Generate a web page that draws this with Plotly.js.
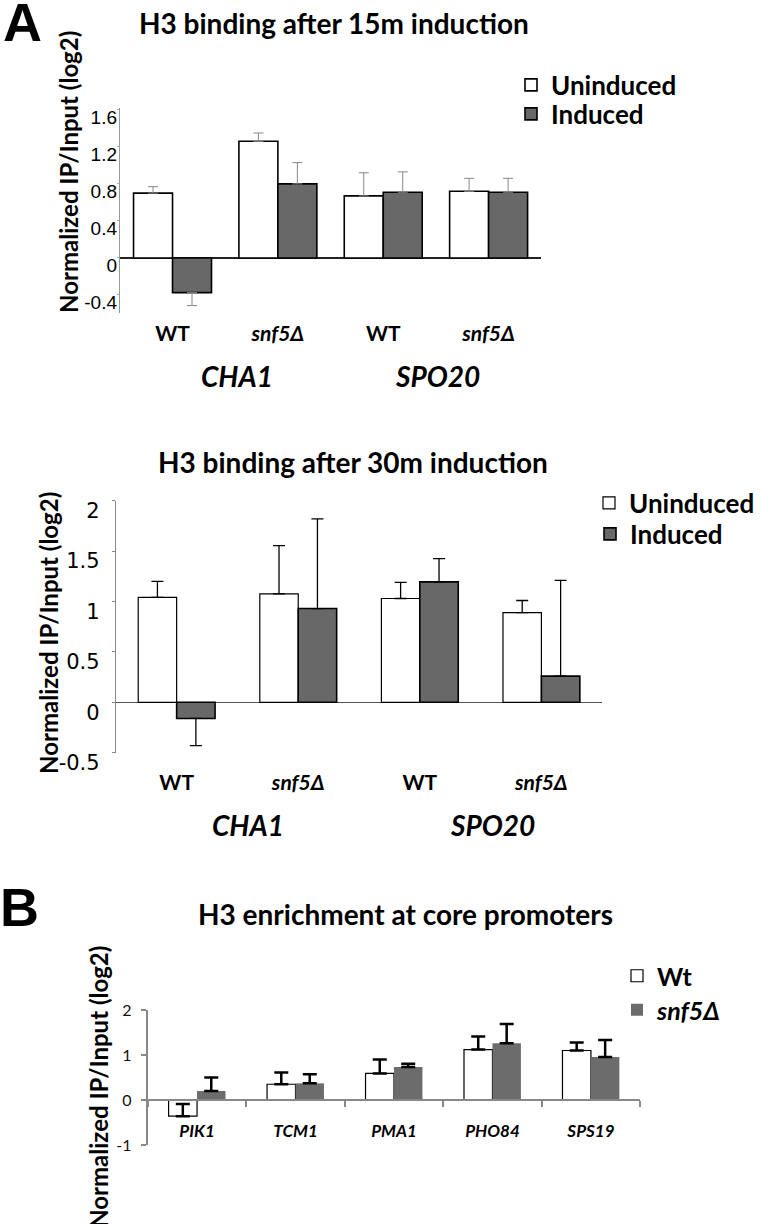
<!DOCTYPE html>
<html><head><meta charset="utf-8">
<script src="https://cdn.plot.ly/plotly-3.0.1.min.js"></script>
<style>html,body{margin:0;padding:0;background:#fff}</style>
</head><body><div id="chart" style="width:760px;height:1224px"></div>
<script>
// ---------------- data ----------------
const strainLabels = ["WT", "snf5Δ", "WT", "snf5Δ"];
const categoriesA = ["CHA1 WT", "CHA1 snf5Δ", "SPO20 WT", "SPO20 snf5Δ"];
const genesA = ["CHA1", "SPO20"];
const seriesA = ["Uninduced", "Induced"];

// 15 min induction
const a15Uninduced = [0.70, 1.26, 0.67, 0.72];
const a15UninducedErr = [0.07, 0.09, 0.25, 0.14];
const a15Induced = [-0.375, 0.80, 0.71, 0.71];
const a15InducedErr = [0.14, 0.23, 0.22, 0.15];
const a15Ticks = [-0.4, 0, 0.4, 0.8, 1.2, 1.6];

// 30 min induction
const a30Uninduced = [1.04, 1.075, 1.03, 0.89];
const a30UninducedErr = [0.16, 0.48, 0.16, 0.12];
const a30Induced = [-0.16, 0.93, 1.195, 0.26];
const a30InducedErr = [0.27, 0.89, 0.23, 0.95];
const a30Ticks = [-0.5, 0, 0.5, 1, 1.5, 2];

// core promoters
const promoters = ["PIK1", "TCM1", "PMA1", "PHO84", "SPS19"];
const seriesB = ["Wt", "snf5Δ"];
const bWt = [-0.36, 0.35, 0.59, 1.12, 1.10];
const bWtErr = [0.27, 0.26, 0.31, 0.29, 0.18];
const bSnf5 = [0.20, 0.37, 0.735, 1.26, 0.955];
const bSnf5Err = [0.30, 0.20, 0.07, 0.43, 0.38];
const bTicks = [-1, 0, 1, 2];

// ---------------- helpers ----------------
const W = 760, H = 1224;
const fx = p => p / W;
const fy = p => 1 - p / H;
const GRAY = '#686868';
const plusOf = (v, e) => v.map((d, i) => d >= 0 ? e[i] : 0);
const minusOf = (v, e) => v.map((d, i) => d < 0 ? e[i] : 0);

function barA(xa, ya, y, err, name, fill, lw, w, off, legend, errStyle) {
  return {
    type: 'bar', x: categoriesA, y: y, name: name, xaxis: xa, yaxis: ya,
    width: w, offset: off, legend: legend,
    marker: {color: fill, line: {color: '#000', width: lw}},
    error_y: Object.assign({type: 'data', symmetric: false,
      array: plusOf(y, err), arrayminus: minusOf(y, err)}, errStyle),
    hoverinfo: 'skip'
  };
}

const errA15 = {color: '#888', thickness: 1, width: 5};
const errA30 = {color: '#000', thickness: 1.3, width: 6};
const errB = {color: '#000', thickness: 2.5, width: 7};

const wA15 = 0.37, wA30 = 0.316, wB = 0.289;

const traces = [
  barA('x', 'y', a15Uninduced, a15UninducedErr, seriesA[0], '#fff', 1.6, wA15, -wA15, 'legend', errA15),
  barA('x', 'y', a15Induced, a15InducedErr, seriesA[1], GRAY, 1.6, wA15, 0, 'legend2', errA15),
  barA('x2', 'y2', a30Uninduced, a30UninducedErr, seriesA[0], '#fff', 1.2, wA30, -wA30, 'legend3', errA30),
  barA('x2', 'y2', a30Induced, a30InducedErr, seriesA[1], GRAY, 1.6, wA30, 0, 'legend4', errA30),
  {type: 'bar', x: promoters, y: bWt, name: seriesB[0], xaxis: 'x3', yaxis: 'y3',
   width: wB, offset: -wB, legend: 'legend5', hoverinfo: 'skip',
   marker: {color: '#fff', line: {color: '#000', width: 1.2}},
   error_y: Object.assign({type: 'data', symmetric: false, array: bWtErr, arrayminus: bWt.map(() => 0)}, errB)},
  {type: 'bar', x: promoters, y: bSnf5, name: seriesB[1], xaxis: 'x3', yaxis: 'y3',
   width: wB, offset: 0, legend: 'legend6', hoverinfo: 'skip',
   marker: {color: '#6c6c6c', line: {color: '#6c6c6c', width: 0}},
   error_y: Object.assign({type: 'data', symmetric: false, array: bSnf5Err, arrayminus: bSnf5.map(() => 0)}, errB)}
];

const boldLato = (size, style) => ({family: 'Lato, "Open Sans", sans-serif', size: size, color: '#000', weight: 700, style: style || 'normal'});
const tickTextA = strainLabels.map(s => s === 'WT' ? '<b>' + s + '</b>' : '<b><i>' + s + '</i></b>');
const fmt = v => String(v);

function legendAt(symX, cy, size, style) {
  return {x: fx(symX - 20), xanchor: 'left', y: fy(cy), yanchor: 'middle',
          bgcolor: 'rgba(0,0,0,0)', borderwidth: 0, font: boldLato(size, style),
          itemclick: false, itemdoubleclick: false};
}

const layout = {
  width: W, height: H, margin: {l: 0, r: 0, t: 0, b: 0},
  paper_bgcolor: '#fff', plot_bgcolor: 'rgba(0,0,0,0)',
  barmode: 'overlay', showlegend: true,
  // ---- A, 15 min ----
  xaxis: {domain: [fx(120), fx(542)], anchor: 'y', type: 'category',
    tickvals: categoriesA, ticktext: tickTextA, showline: false, showgrid: false, zeroline: false,
    ticks: '', tickfont: boldLato(21), ticklabelstandoff: 6, fixedrange: true},
  yaxis: {domain: [fy(313), fy(108)], anchor: 'x', range: [-0.595, 1.62],
    tickvals: a15Ticks, ticktext: a15Ticks.map(fmt), showline: true, linecolor: '#999', linewidth: 1,
    showgrid: false, zeroline: true, zerolinecolor: '#222', zerolinewidth: 1.5,
    ticks: 'outside', ticklen: 2, tickcolor: '#aaa',
    tickfont: {family: '"Liberation Sans", Arial, sans-serif', size: 19, color: '#000'},
    ticklabelshift: 7, ticklabelstandoff: -4, fixedrange: true},
  // ---- A, 30 min ----
  xaxis2: {domain: [fx(116), fx(603)], anchor: 'y2', type: 'category',
    tickvals: categoriesA, ticktext: tickTextA, showline: false, showgrid: false, zeroline: false,
    ticks: '', tickfont: boldLato(21), ticklabelstandoff: 15, fixedrange: true},
  yaxis2: {domain: [fy(752.7), fy(500.7)], anchor: 'x2', range: [-0.5, 2],
    tickvals: a30Ticks, ticktext: a30Ticks.map(fmt), showline: true, linecolor: '#888', linewidth: 1,
    showgrid: false, zeroline: true, zerolinecolor: '#555', zerolinewidth: 1,
    ticks: 'outside', ticklen: 3, tickcolor: '#888',
    tickfont: {family: '"DejaVu Sans", Verdana, sans-serif', size: 21, color: '#000'},
    ticklabelshift: 10, ticklabelstandoff: 8, fixedrange: true},
  // ---- B ----
  xaxis3: {domain: [fx(148), fx(641)], anchor: 'free', position: fy(1100), type: 'category',
    showline: true, linecolor: '#888', linewidth: 2, showgrid: false, zeroline: false,
    ticks: 'outside', tickson: 'boundaries', ticklen: 6, tickwidth: 2, tickcolor: '#888',
    tickfont: boldLato(17, 'italic'), ticklabelstandoff: 16, fixedrange: true},
  yaxis3: {domain: [fy(1145), fy(1010)], anchor: 'x3', range: [-1, 2],
    tickvals: bTicks, ticktext: bTicks.map(fmt), showline: true, linecolor: '#888', linewidth: 2,
    showgrid: false, zeroline: false, ticks: 'outside', ticklen: 5, tickwidth: 2, tickcolor: '#888',
    tickfont: {family: 'Lato, "Open Sans", sans-serif', size: 16, color: '#111'},
    ticklabelstandoff: 6, fixedrange: true},
  legend: legendAt(531, 85, 26),
  legend2: legendAt(531, 114, 26),
  legend3: legendAt(610, 503, 26),
  legend4: legendAt(610, 534, 26),
  legend5: legendAt(637, 976, 25),
  legend6: legendAt(637, 1010, 25, 'italic'),
  annotations: [
    {text: 'A', x: fx(23), y: fy(22), font: {family: '"Liberation Sans", Arial, sans-serif', size: 54, color: '#000', weight: 700}},
    {text: 'B', x: fx(20), y: fy(907), font: {family: '"Liberation Sans", Arial, sans-serif', size: 54, color: '#000', weight: 700}},
    {text: 'H3 binding after 15m induction', x: fx(334), y: fy(23), font: boldLato(28)},
    {text: 'H3 binding after 30m induction', x: fx(353), y: fy(462), font: boldLato(28)},
    {text: 'H3 enrichment at core promoters', x: fx(406), y: fy(914), font: boldLato(28)},
    {text: 'Normalized IP/Input (log2)', x: fx(69), y: fy(172), textangle: -90, font: boldLato(24)},
    {text: 'Normalized IP/Input (log2)', x: fx(48), y: fy(633), textangle: -90, font: boldLato(24)},
    {text: 'Normalized IP/Input (log2)', x: fx(98), y: fy(1087), textangle: -90, font: boldLato(24)},
    {text: genesA[0], x: fx(237), y: fy(376), font: boldLato(28, 'italic')},
    {text: genesA[1], x: fx(438), y: fy(376), font: boldLato(28, 'italic')},
    {text: genesA[0], x: fx(248), y: fy(825), font: boldLato(28, 'italic')},
    {text: genesA[1], x: fx(493), y: fy(825), font: boldLato(28, 'italic')}
  ].map(a => Object.assign({xref: 'paper', yref: 'paper', showarrow: false, xanchor: 'center', yanchor: 'middle'}, a))
};

Plotly.newPlot('chart', traces, layout, {staticPlot: true, displayModeBar: false});
</script>
</body></html>
